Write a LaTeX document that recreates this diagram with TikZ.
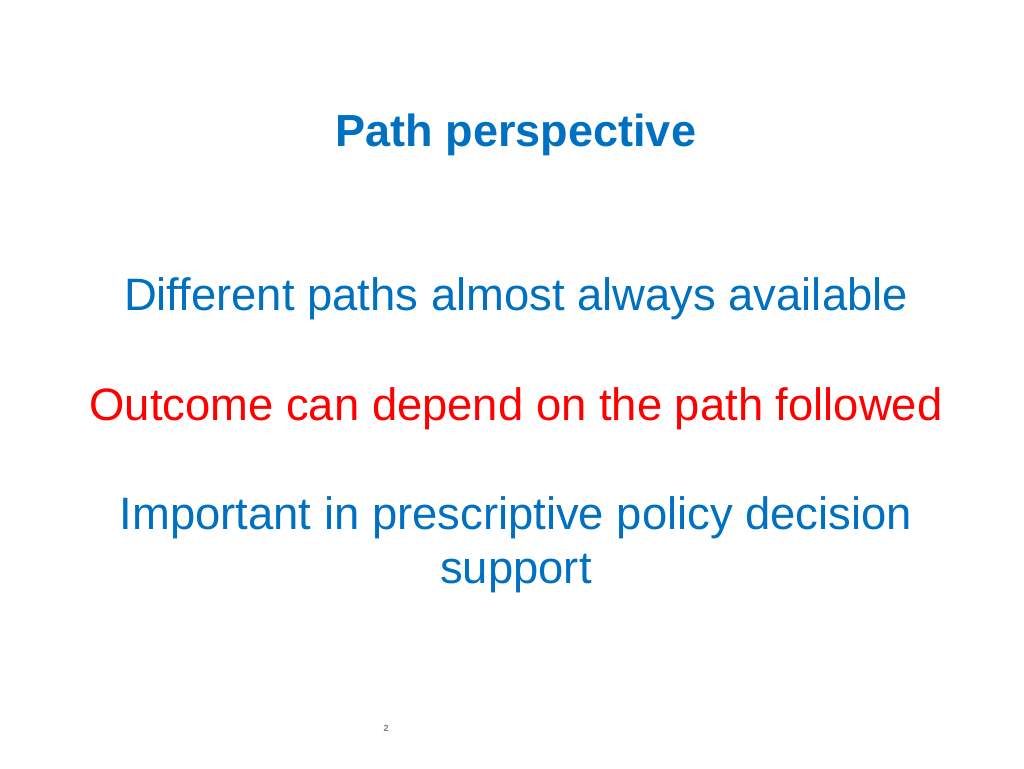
\documentclass[tikz,border=0pt]{standalone}
\usepackage{fontspec}
\setmainfont[Ligatures=NoCommon]{Liberation Sans}
\definecolor{bl}{HTML}{0070C0}
\begin{document}
\begin{tikzpicture}[x=1pt,y=-1pt,
  body/.style={anchor=base,font=\fontsize{45.4}{52}\selectfont}]
\useasboundingbox (0,0) rectangle (1024,768);
\node[anchor=base,font=\fontsize{45}{52}\selectfont\bfseries,text=bl] (t) at (516,146) {Path perspective};
\node[body,text=bl] (a) at (516,310) {Different paths almost always available};
\node[body,text=red] (b) at (516,420) {Outcome can depend on the path followed};
\node[body,text=bl] (c) at (516,529) {Important in prescriptive policy decision};
\node[body,text=bl] (d) at (516,583) {support};
\node[anchor=base,font=\fontsize{9}{10}\selectfont\bfseries,text=gray] (n) at (386,731) {2};
\end{tikzpicture}
\end{document}
